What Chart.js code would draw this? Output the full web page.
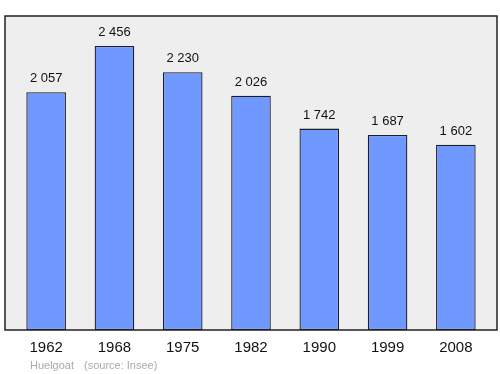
<!DOCTYPE html>
<html>
<head>
<meta charset="utf-8">
<script src="https://cdn.jsdelivr.net/npm/chart.js@4/dist/chart.umd.min.js"></script>
<style>
  html, body { margin: 0; padding: 0; background: #fff; }
  #wrap { width: 500px; height: 374px; position: relative; }
</style>
</head>
<body>
<div id="wrap"><canvas id="chart"></canvas></div>
<script>
// Population of Huelgoat by census year
const years = ['1962', '1968', '1975', '1982', '1990', '1999', '2008'];
const population = [2057, 2456, 2230, 2026, 1742, 1687, 1602];
const yMax = 2716;
const placeName = 'Huelgoat';
const sourceText = '(source: Insee)';

const FONT = '"Liberation Sans", Arial, sans-serif';

function formatNumber(v) {
    return String(v).replace(/\B(?=(\d{3})+(?!\d))/g, ' ');
}

// Gray panel with a dark frame behind the bars
const panelPlugin = {
    id: 'panel',
    beforeDatasetsDraw(chart) {
        const { ctx, chartArea: a } = chart;
        ctx.save();
        ctx.fillStyle = '#eeeeee';
        ctx.fillRect(a.left - 7, a.top, a.right - a.left + 14, a.bottom - a.top);
        ctx.restore();
    },
    afterDatasetsDraw(chart) {
        const { ctx, chartArea: a } = chart;
        ctx.save();
        ctx.strokeStyle = '#222222';
        ctx.lineWidth = 1.5;
        ctx.strokeRect(a.left - 7, a.top, a.right - a.left + 14, a.bottom - a.top);

        // value labels above bars
        ctx.fillStyle = '#111111';
        ctx.font = '13px ' + FONT;
        ctx.textAlign = 'center';
        ctx.textBaseline = 'bottom';
        chart.getDatasetMeta(0).data.forEach((bar, i) => {
            ctx.fillText(formatNumber(population[i]), bar.x, bar.y - 7);
        });

        // footer
        ctx.fillStyle = '#aaaaaa';
        ctx.font = '11px ' + FONT;
        ctx.textAlign = 'left';
        ctx.textBaseline = 'middle';
        ctx.fillText(placeName, a.left + 18, a.bottom + 36);
        ctx.fillText(sourceText, a.left + 72, a.bottom + 36);
        ctx.restore();
    }
};

new Chart(document.getElementById('chart'), {
    type: 'bar',
    data: {
        labels: years,
        datasets: [{
            data: population,
            backgroundColor: '#7099ff',
            borderColor: '#1c1c2c',
            borderWidth: 1.3,
            borderSkipped: false,
            barPercentage: 0.58,
            categoryPercentage: 1.0
        }]
    },
    options: {
        responsive: true,
        maintainAspectRatio: false,
        animation: false,
        layout: {
            padding: { left: 12, right: 10, top: 16, bottom: 0 }
        },
        plugins: {
            legend: { display: false },
            tooltip: { enabled: false }
        },
        scales: {
            x: {
                grid: { display: false, drawTicks: false, tickLength: 0 },
                border: { display: false },
                ticks: {
                    color: '#111111',
                    padding: 9,
                    maxRotation: 0,
                    font: { family: FONT, size: 15 }
                },
                afterFit(scale) {
                    scale.height = 44;
                }
            },
            y: {
                display: false,
                min: 0,
                max: yMax
            }
        }
    },
    plugins: [panelPlugin]
});
</script>
</body>
</html>
